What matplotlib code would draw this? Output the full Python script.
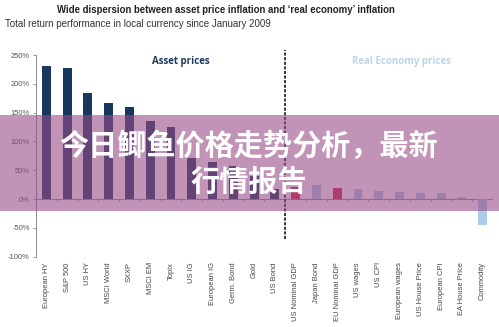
import matplotlib
matplotlib.use("Agg")
import matplotlib.pyplot as plt
from matplotlib.patches import Rectangle
import numpy as np

categories = ["European HY", "S&P 500", "US HY", "MSCI World", "SXXP", "MSCI EM",
              "Topix", "US IG", "European IG", "Germ. Bond", "Gold", "US Bond",
              "US Nominal GDP", "Japan Bond", "EU Nominal GDP", "US wages", "US CPI",
              "European wages", "US House Price", "European CPI", "EA House Price",
              "Commodity"]
values = [231, 228, 184, 167, 159, 136, 125, 72, 64, 58, 40, 18,
          21, 25, 20, 17, 14.5, 12.7, 11, 11, 3, -45]
groups = ["asset"] * 12 + ["real"] * 10
highlight = ["US Nominal GDP", "EU Nominal GDP"]
yticks = [250, 200, 150, 100, 50, 0, -50, -100]

NAVY = "#17375e"
LIGHT = "#a9cce8"
RED = "#cc2846"
GRAY = "#8c8c8c"

fig = plt.figure(figsize=(4.99, 3.27), dpi=100)
ax = fig.add_axes([0.0721, 0.215, 0.9159, 0.6168])

x = np.arange(len(categories))
colors = []
for c, g in zip(categories, groups):
    if c in highlight:
        colors.append(RED)
    elif g == "asset":
        colors.append(NAVY)
    else:
        colors.append(LIGHT)
ax.bar(x, values, width=0.43, color=colors, zorder=2)

ax.set_xlim(-0.5, len(categories) - 0.5)
ax.set_ylim(-100, 250)
ax.set_yticks(yticks)
ax.set_yticklabels([f"{v}%" for v in yticks], fontsize=5.4, color="#555555",
                   family="Liberation Sans")
ax.tick_params(axis="y", length=2.5, width=0.6, color=GRAY, pad=2)
ax.set_xticks(x)
ax.set_xticklabels(categories, rotation=90, fontsize=5.4, color="#444444",
                   family="Liberation Sans", va="top", ha="center")
ax.tick_params(axis="x", length=0, pad=4)
for s in ["top", "right", "bottom"]:
    ax.spines[s].set_visible(False)
ax.spines["left"].set_color(GRAY)
ax.spines["left"].set_linewidth(0.7)

# zero line with boundary ticks
ax.axhline(0, color=GRAY, lw=0.7, zorder=1)
ax.vlines(np.arange(len(categories) + 1) - 0.5, -4, 0, color=GRAY, lw=0.6, zorder=1)

# divider
split = groups.index("real") - 0.5
ax.vlines(split, -70, 258, color="black", lw=1.1, linestyles=(0, (2, 1)),
          clip_on=False, zorder=3)

ax.text(6.47, 239, "Asset prices", fontsize=7, color="#1f3a5c", fontweight="bold",
        family="Open Sans", ha="center", va="center")
ax.text(17.1, 239, "Real Economy prices", fontsize=7, color="#bcd5e8", fontweight="bold",
        family="Open Sans", ha="center", va="center")

fig.text(0.452, 0.969, "Wide dispersion between asset price inflation and \u2018real economy\u2019 inflation",
         fontsize=6.9, fontweight="bold", family="Liberation Sans",
         ha="center", va="center", color="#222222")
fig.text(0.011, 0.926, "Total return performance in local currency since January 2009",
         fontsize=7.0, family="Liberation Sans",
         ha="left", va="center", color="#333333")

# overlay banner
fig.add_artist(Rectangle((0, 0.3547), 1, 0.2936, transform=fig.transFigure,
                         facecolor=(150/255, 75/255, 135/255), alpha=0.6,
                         edgecolor="none", zorder=10))
fig.text(0.499, 0.553, "今日鲫鱼价格走势分析，最新", fontsize=21, fontweight="bold",
         color="white", family=["Noto Sans CJK SC", "DejaVu Sans"],
         ha="center", va="center", zorder=11)
fig.text(0.499, 0.443, "行情报告", fontsize=21, fontweight="bold",
         color="white", family=["Noto Sans CJK SC", "DejaVu Sans"],
         ha="center", va="center", zorder=11)

fig.savefig("out.png", dpi=100)
